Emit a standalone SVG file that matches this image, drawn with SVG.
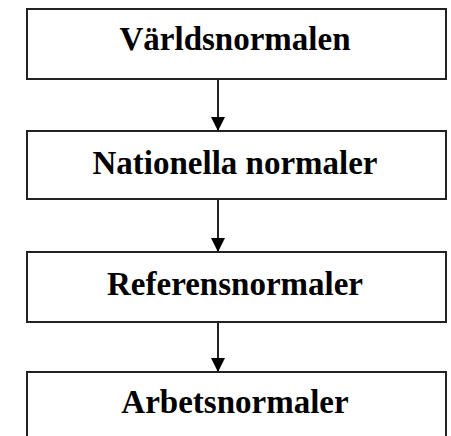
<svg xmlns="http://www.w3.org/2000/svg" width="451" height="436" viewBox="0 0 451 436">
<style>
.box{fill:#fff;stroke:#222;stroke-width:2}
.lbl{font-family:"Liberation Serif","Times New Roman",serif;font-weight:bold;font-size:33px;fill:#000;text-anchor:middle}
.con{stroke:#222;stroke-width:2;fill:none;marker-end:url(#ah)}
</style>
<defs>
<marker id="ah" markerUnits="userSpaceOnUse" markerWidth="14" markerHeight="14" refX="14" refY="7" orient="auto" viewBox="0 0 14 14">
<path d="M0,0 L14,7 L0,14 Z" fill="#000"/>
</marker>
</defs>
<rect width="451" height="436" fill="#fff"/>
<g id="connectors">
<line class="con" x1="218" y1="79" x2="218" y2="131"/>
<line class="con" x1="218" y1="199" x2="218" y2="252"/>
<line class="con" x1="218" y1="322" x2="218" y2="372"/>
</g>
<g id="node1">
<rect class="box" x="27" y="9" width="419" height="70"/>
<text class="lbl" x="235" y="49.5">Världsnormalen</text>
</g>
<g id="node2">
<rect class="box" x="27" y="131" width="419" height="68"/>
<text class="lbl" x="235" y="173.5">Nationella normaler</text>
</g>
<g id="node3">
<rect class="box" x="27" y="252" width="419" height="70"/>
<text class="lbl" x="235" y="294.5">Referensnormaler</text>
</g>
<g id="node4">
<rect class="box" x="27" y="372" width="419" height="80"/>
<text class="lbl" x="235" y="412.5">Arbetsnormaler</text>
</g>
</svg>
